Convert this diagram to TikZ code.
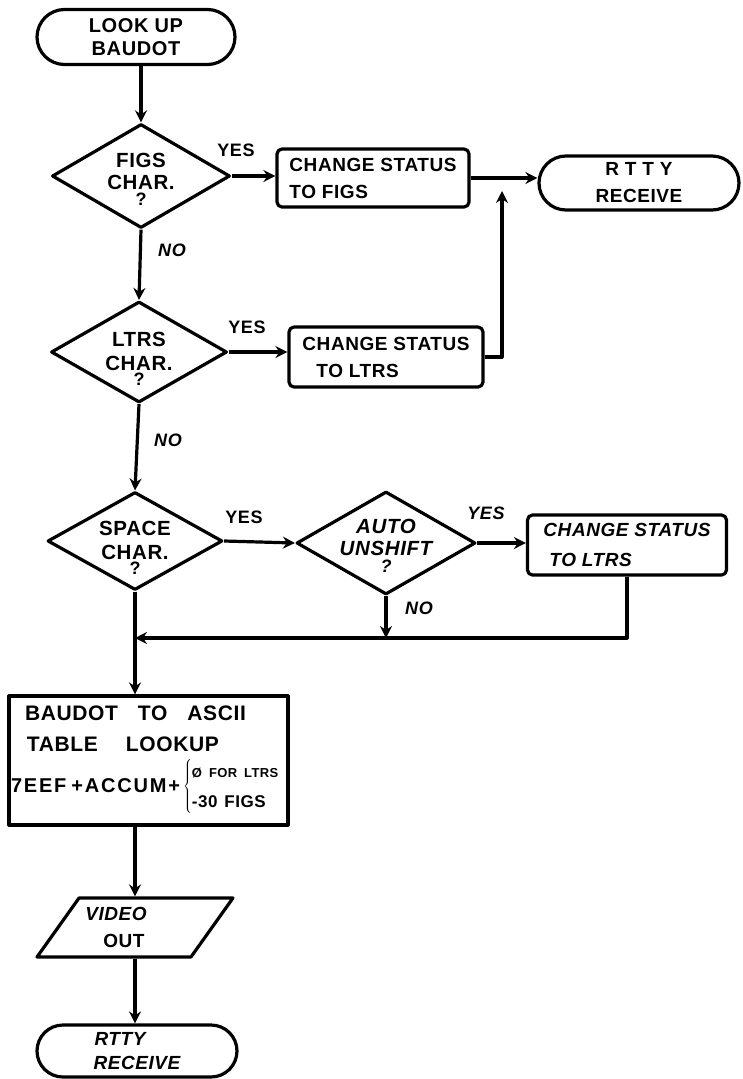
\documentclass[tikz,border=0pt]{standalone}
\usepackage{fontspec}
\setmainfont{Liberation Sans}[LetterSpace=3]
\usetikzlibrary{shapes.geometric,shapes.misc,arrows.meta}
\begin{document}
\begin{tikzpicture}[x=1pt,y=-1pt, line join=round,
  lw/.style={line width=3.2pt},
  txt/.style={font=\fontsize{19}{27}\selectfont\bfseries, align=center},
  dtext/.style={font=\fontsize{20.5}{25}\selectfont\bfseries, align=center},
  lab/.style={font=\fontsize{18}{20}\selectfont\bfseries},
  ilab/.style={font=\fontsize{18}{20}\selectfont\bfseries\itshape},
  term/.style={draw, lw, rounded rectangle, inner sep=0pt, txt},
  proc/.style={draw, lw, rectangle, rounded corners=5pt, inner sep=0pt, txt},
  sqbox/.style={draw, lw, rectangle, inner sep=0pt, txt},
  dec/.style={draw, lw, diamond, inner sep=0pt},
  io/.style={draw, lw, trapezium, trapezium left angle=70, trapezium right angle=110,
             trapezium stretches=true, inner sep=0pt},
  flow/.style={lw, -{Stealth[length=12pt,width=12pt,inset=4pt]}},
]
\useasboundingbox (0,0) rectangle (742,1079);
\fill[white] (0,0) rectangle (742,1079);

% nodes
\node[term, minimum width=198pt, minimum height=55pt, font=\fontsize{20}{23}\selectfont\bfseries] (start) at (136,37) {LOOK UP\\BAUDOT};

\node[dec, minimum width=178pt, minimum height=104pt,
  label={[dtext, name=figsT, yshift=-3pt]center:{FIGS\\[-3pt]CHAR.\\[-9pt]{\fontsize{18}{18}\selectfont ?}}}] (figs) at (141,176) {};

\node[proc, minimum width=192pt, minimum height=58pt, align=left] (chf) at (373,178) {CHANGE STATUS\\TO FIGS};

\node[term, minimum width=200pt, minimum height=54pt] (rtty1) at (639,183) {R T T Y\\RECEIVE};

\node[dec, minimum width=176pt, minimum height=101pt,
  label={[dtext, name=ltrsT, yshift=-7pt]center:{LTRS\\[-1pt]CHAR.\\[-10pt]{\fontsize{18}{18}\selectfont ?}}}] (ltrs) at (139,352) {};

\node[proc, minimum width=194pt, minimum height=60pt, align=left] (chl) at (386,357) {CHANGE STATUS\\\hspace*{14pt}TO LTRS};

\node[dec, minimum width=175pt, minimum height=98pt,
  label={[dtext, name=spaceT, yshift=-7pt]center:{SPACE\\[-1pt]CHAR.\\[-10pt]{\fontsize{18}{18}\selectfont ?}}}] (space) at (135,541) {};

\node[dec, minimum width=179pt, minimum height=103pt,
  label={[dtext, name=autoT, yshift=-3pt]center:{\itshape AUTO\\[-3pt]\itshape UNSHIFT\\[-8pt]{\fontsize{18}{18}\selectfont\itshape ?}}}] (auto) at (386,543) {};

\node[proc, minimum width=199pt, minimum height=60pt, align=left, font=\fontsize{19}{30}\selectfont\bfseries\itshape] (cha) at (627,545) {CHANGE STATUS\\\hspace*{6pt}TO LTRS};

\node[sqbox, minimum width=279pt, minimum height=129pt, text width=275pt, align=left,
  font=\fontsize{21}{32}\selectfont\bfseries] (baudot) at (148.5,760.5)
  {\hspace*{14pt}BAUDOT\hspace{20pt}TO\hspace{20pt}ASCII\\[-1pt]
   \hspace*{16pt}TABLE\hspace{28pt}LOOKUP\\[6pt]
   {\fontsize{20}{32}\selectfont\addfontfeature{LetterSpace=9}7EEF\hspace{5pt}+ACCUM+}\hspace{3pt}$\left\{\renewcommand{\arraystretch}{0.85}\begin{tabular}{@{}l@{}}{\fontsize{13}{14}\selectfont Ø FOR LTRS}\\[3pt]{\fontsize{17}{18}\selectfont -30 FIGS}\end{tabular}\right.$};

\node[io, minimum width=196pt, minimum height=59pt,
  label={[txt, name=videoT, align=left, xshift=-19pt]center:{{\itshape VIDEO}\\\hspace*{18pt}OUT}}] (video) at (135,927.5) {\phantom{X}};

\node[term, minimum width=200pt, minimum height=52pt, font=\fontsize{19}{24}\selectfont\bfseries\itshape] (rtty2) at (137,1051) {RTTY\hspace*{34pt}\\RECEIVE};

% labels
\node[lab] (yes1) at (236,150) {YES};
\node[ilab] (no1) at (172,250) {NO};
\node[lab] (yes2) at (247,327) {YES};
\node[ilab] (no2) at (168,440) {NO};
\node[lab] (yes3) at (244,517) {YES};
\node[ilab] (yes4) at (486,513) {YES};
\node[ilab] (no3) at (419,608) {NO};

% coordinates
\coordinate (j) at (502,178);
\coordinate (mrg) at (135,638);

% connectors
\draw[flow] (figs.north |- start.south) -- (figs.north);
\draw[flow] (figs.east) -- (chf.west |- figs.east);
\draw[flow] (chf.east) -- (chf.east -| rtty1.west);
\draw[flow, shorten >=13pt] (chl.east) -| (j);
\draw[flow] (figs.south) -- (ltrs.north);
\draw[flow] (ltrs.east) -- (chl.west |- ltrs.east);
\draw[flow] (ltrs.south) -- (space.north);
\draw[flow] (space.east) -- (auto.west);
\draw[flow] (auto.east) -- (cha.west |- auto.east);
\draw[flow] (auto.south) -- (auto.south |- mrg);
\draw[flow] (cha.south) |- (mrg);
\draw[flow] (space.south) -- (space.south |- baudot.north);
\draw[flow] (video.north |- baudot.south) -- (video.north);
\draw[flow] (video.south) -- (video.south |- rtty2.north);
\end{tikzpicture}
\end{document}
